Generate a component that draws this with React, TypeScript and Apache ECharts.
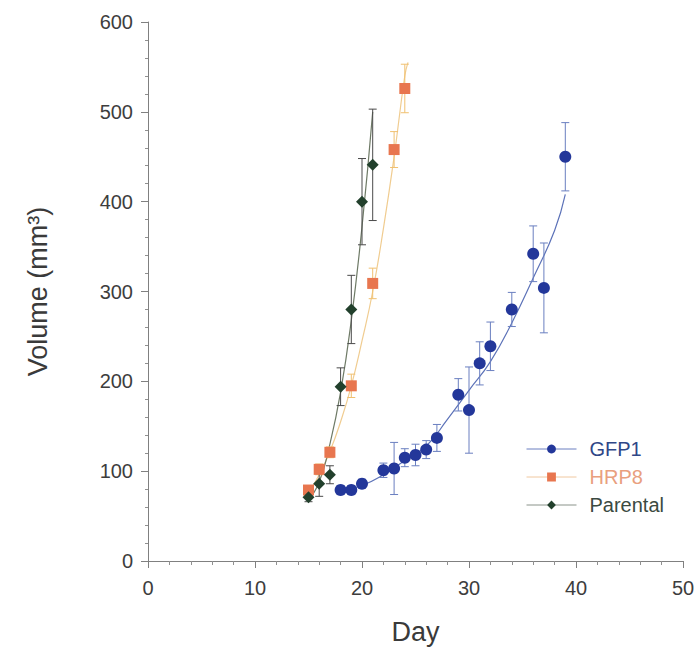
import React, { useEffect, useRef } from "react";
import * as echarts from "echarts";

// GFP1 measurements
const gfpDays = [18, 19, 20, 22, 23, 24, 25, 26, 27, 29, 30, 31, 32, 34, 36, 37, 39];
const gfpVol = [79, 79, 86, 101, 103, 115, 118, 124, 137, 185, 168, 220, 239, 280, 342, 304, 450];
const gfpErr = [5, 5, 5, 8, 29, 10, 12, 10, 15, 18, 48, 24, 27, 19, 31, 50, 38];
// GFP1 fitted curve
const gfpFitDays = [18, 20, 22, 24, 26, 28, 30, 32, 34, 36, 38, 39];
const gfpFitVol = [78, 84, 96, 112, 128, 158, 190, 222, 265, 315, 368, 408];

// HRP8 measurements
const hrpDays = [15, 16, 17, 19, 21, 23, 24];
const hrpVol = [79, 102, 121, 195, 309, 458, 526];
const hrpErr = [5, 6, 6, 13, 17, 20, 27];
const hrpFitDays = [15, 16, 17, 18, 19, 20, 21, 22, 23, 24, 24.3];
const hrpFitVol = [76, 96, 122, 155, 195, 245, 300, 370, 450, 540, 555];

// Parental measurements
const parDays = [15, 16, 17, 18, 19, 20, 21];
const parVol = [71, 86, 96, 194, 280, 400, 441];
const parErr = [5, 14, 10, 21, 38, 48, 62];
const parFitDays = [15, 16, 17, 18, 19, 20, 21];
const parFitVol = [68, 88, 130, 188, 268, 372, 500];

const xTicks = [0, 10, 20, 30, 40, 50];
const yTicks = [0, 100, 200, 300, 400, 500, 600];

const FONT = "'Liberation Sans', Arial, Helvetica, sans-serif";

const pts = (d: number[], v: number[]) => d.map((x, i) => [x, v[i]]);
const errs = (d: number[], v: number[], e: number[]) =>
  d.map((x, i) => [x, v[i] - e[i], v[i] + e[i]]);

function errSeries(data: number[][], color: string, z: number) {
  return {
    type: "custom",
    z,
    silent: true,
    data,
    renderItem: (params: any, api: any) => {
      const x = api.value(0);
      const lo = api.coord([x, api.value(1)]);
      const hi = api.coord([x, api.value(2)]);
      const cap = 4;
      const style = { stroke: color, lineWidth: 1, fill: "none" };
      return {
        type: "group",
        children: [
          { type: "line", shape: { x1: lo[0], y1: lo[1], x2: hi[0], y2: hi[1] }, style },
          { type: "line", shape: { x1: lo[0] - cap, y1: lo[1], x2: lo[0] + cap, y2: lo[1] }, style },
          { type: "line", shape: { x1: hi[0] - cap, y1: hi[1], x2: hi[0] + cap, y2: hi[1] }, style },
        ],
      };
    },
  };
}

export default function App() {
  const ref = useRef<HTMLDivElement>(null);
  useEffect(() => {
    document.body.style.margin = "0";
    const chart = echarts.init(ref.current!, null, { renderer: "svg" });
    const gfpColor = "#23379a";
    const hrpColor = "#e8764f";
    const parColor = "#22402c";
    chart.setOption({
      animation: false,
      backgroundColor: "#ffffff",
      textStyle: { fontFamily: FONT },
      grid: { left: 148, right: 15, top: 22, bottom: 90, containLabel: false },
      xAxis: {
        type: "value",
        min: xTicks[0],
        max: xTicks[xTicks.length - 1],
        interval: 10,
        name: "Day",
        nameLocation: "middle",
        nameGap: 57,
        nameTextStyle: { fontSize: 27, color: "#3a3a3a", fontFamily: FONT },
        axisLine: { show: true, onZero: false, lineStyle: { color: "#808080", width: 1 } },
        axisTick: { show: true, length: 7, lineStyle: { color: "#808080" } },
        minorTick: { show: true, splitNumber: 5, length: 4, lineStyle: { color: "#909090" } },
        splitLine: { show: false },
        axisLabel: { fontSize: 20, color: "#3d3d3d", margin: 17, fontFamily: FONT },
      },
      yAxis: {
        type: "value",
        min: yTicks[0],
        max: yTicks[yTicks.length - 1],
        interval: 100,
        name: "Volume (mm³)",
        nameLocation: "middle",
        nameGap: 97,
        nameTextStyle: { fontSize: 27, color: "#3a3a3a", fontFamily: FONT },
        axisLine: { show: true, onZero: false, lineStyle: { color: "#808080", width: 1 } },
        axisTick: { show: true, length: 7, lineStyle: { color: "#808080" } },
        minorTick: { show: true, splitNumber: 5, length: 3, lineStyle: { color: "#909090" } },
        splitLine: { show: false },
        axisLabel: { fontSize: 20, color: "#3d3d3d", margin: 15, fontFamily: FONT },
      },
      legend: {
        orient: "vertical",
        left: 521,
        top: 434,
        itemWidth: 50,
        itemHeight: 11,
        itemGap: 8,
        textStyle: { fontSize: 20, fontFamily: FONT, padding: [0, 0, 0, 8] },
        data: [
          { name: "GFP1", lineStyle: { color: "#6a7fc0", width: 1, opacity: 1 }, textStyle: { color: "#2f4787", fontSize: 20 } },
          { name: "HRP8", lineStyle: { color: "#f0c8a0", width: 1, opacity: 1 }, textStyle: { color: "#e9a07e", fontSize: 20 } },
          { name: "Parental", lineStyle: { color: "#8a938a", width: 1, opacity: 1 }, textStyle: { color: "#3b4a41", fontSize: 20 } },
        ],
      },
      series: [
        { name: "GFP1 fit", type: "line", data: pts(gfpFitDays, gfpFitVol), smooth: true, showSymbol: false, lineStyle: { color: "#5c72b8", width: 1.2 }, z: 2, silent: true },
        { name: "HRP8 fit", type: "line", data: pts(hrpFitDays, hrpFitVol), smooth: true, showSymbol: false, lineStyle: { color: "#f0cc90", width: 1.2 }, z: 2, silent: true },
        { name: "Parental fit", type: "line", data: pts(parFitDays, parFitVol), smooth: true, showSymbol: false, lineStyle: { color: "#6e7a66", width: 1.2 }, z: 2, silent: true },
        errSeries(errs(gfpDays, gfpVol, gfpErr), "#6a7fc0", 3),
        errSeries(errs(hrpDays, hrpVol, hrpErr), "#f0c070", 3),
        errSeries(errs(parDays, parVol, parErr), "#4a4a4a", 3),
        { name: "GFP1", type: "line", data: pts(gfpDays, gfpVol), symbol: "circle", symbolSize: 12, showSymbol: true, itemStyle: { color: gfpColor }, lineStyle: { opacity: 0, width: 0 }, z: 5 },
        { name: "HRP8", type: "line", data: pts(hrpDays, hrpVol), symbol: "rect", symbolSize: 11, showSymbol: true, itemStyle: { color: hrpColor }, lineStyle: { opacity: 0, width: 0 }, z: 5 },
        { name: "Parental", type: "line", data: pts(parDays, parVol), symbol: "diamond", symbolSize: 12, showSymbol: true, itemStyle: { color: parColor }, lineStyle: { opacity: 0, width: 0 }, z: 5 },
      ],
    });
    return () => chart.dispose();
  }, []);
  return <div ref={ref} style={{ width: 698, height: 651 }} />;
}
